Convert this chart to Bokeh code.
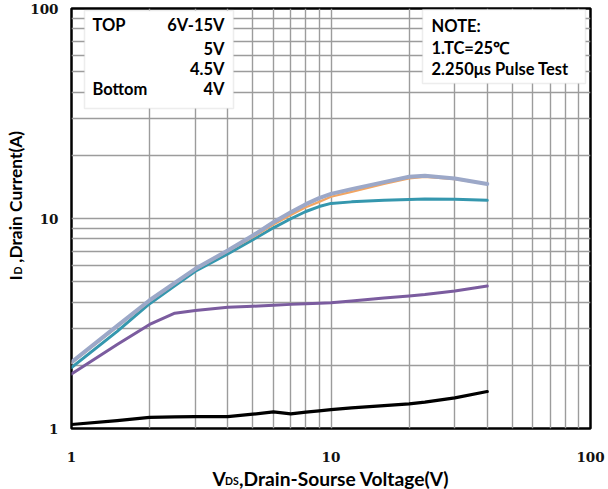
from bokeh.plotting import figure
from bokeh.models import Label, BoxAnnotation, FixedTicker, PrintfTickFormatter
from bokeh.embed import file_html
from bokeh.resources import INLINE

# ---- data (VDS in V, ID in A) ----
vds = [1, 1.5, 2, 2.5, 3, 4, 5, 6, 7, 8, 9, 10, 12, 16, 20, 23, 30, 40]
id_6v_15v = [2.07, 3.08, 4.08, 4.94, 5.76, 7.04, 8.30, 9.60, 10.7, 11.7, 12.5, 13.1, 13.8, 14.9, 15.8, 16.0, 15.5, 14.6]
id_5v     = [2.05, 3.05, 4.04, 4.90, 5.72, 6.98, 8.15, 9.35, 10.4, 11.3, 12.0, 12.7, 13.4, 14.6, 15.5, 15.8, 15.4, 14.6]
id_4_5v   = [1.95, 2.90, 3.93, 4.78, 5.61, 6.79, 7.92, 9.03, 9.97, 10.8, 11.4, 11.8, 12.0, 12.2, 12.3, 12.4, 12.35, 12.2]
id_4v     = [1.82, 2.51, 3.13, 3.54, 3.65, 3.78, 3.82, 3.86, 3.90, 3.93, 3.95, 3.97, 4.05, 4.18, 4.28, 4.35, 4.52, 4.77]
id_low    = [1.045, 1.09, 1.13, 1.135, 1.14, 1.14, 1.17, 1.20, 1.175, 1.196, 1.214, 1.23, 1.254, 1.285, 1.31, 1.335, 1.40, 1.50]

series = [
    ("low", id_low, "#000000", 3.2),
    ("4V", id_4v, "#7B5C9F", 3.0),
    ("4.5V", id_4_5v, "#3597AE", 3.0),
    ("5V", id_5v, "#F2A562", 2.2),
    ("6V-15V", id_6v_15v, "#9CA8C8", 4.0),
]

x_major = [1, 10, 100]
x_minor = [2, 3, 4, 5, 6, 7, 8, 9, 20, 30, 40, 50, 60, 70, 80, 90]
legend_left = ["TOP", "", "", "Bottom"]
legend_right = ["6V-15V", "5V", "4.5V", "4V"]
note_lines = ["NOTE:", "1.TC=25℃", "2.250μs Pulse Test"]
NB = "\u00a0"

W, H = 608, 489
FL, FR, FT, FB = 71, 590, 8, 428
p = figure(width=W, height=H, x_axis_type="log", y_axis_type="log",
           x_range=(1, 100), y_range=(1, 100),
           output_backend="svg", toolbar_location=None,
           min_border_left=FL, min_border_right=W - FR, min_border_top=FT, min_border_bottom=H - FB)
p.background_fill_color = "white"
p.border_fill_color = "white"
p.outline_line_color = "black"
p.outline_line_width = 2.5

for ax in (p.xaxis[0], p.yaxis[0]):
    ax.ticker = FixedTicker(ticks=x_major, minor_ticks=x_minor)
    ax.formatter = PrintfTickFormatter(format="%d")
    ax.axis_line_color = None
    ax.major_tick_line_color = None
    ax.minor_tick_line_color = None
    ax.major_tick_out = 0
    ax.major_tick_in = 0
    ax.minor_tick_out = 0
    ax.minor_tick_in = 0
    ax.major_label_text_font = "DejaVu Serif"
    ax.major_label_text_font_style = "bold"
    ax.major_label_text_font_size = "13.5px"
    ax.major_label_text_color = "#111111"
p.xaxis.major_label_standoff = 23
p.yaxis.major_label_standoff = 13

for g in p.grid:
    g.grid_line_color = "#9c9c9c"
    g.grid_line_width = 1.4
    g.minor_grid_line_color = "#9c9c9c"
    g.minor_grid_line_width = 1.4

for name, ys, col, lw in series:
    p.line(vds, ys, line_color=col, line_width=lw, line_join="round", line_cap="round")

# page-pixel -> data helpers for annotation placement
def X(px):
    return 10 ** (2 * (px - FL) / (FR - FL))
def Y(py):
    return 10 ** (2 * (FB - py) / (FB - FT))

SANS = "Lato"
p.add_layout(BoxAnnotation(left=X(84), right=X(233), top=Y(10), bottom=Y(108),
                           fill_color="white", fill_alpha=1, line_color="#c4c4c4", line_width=1.5))
p.add_layout(BoxAnnotation(left=X(422), right=X(585), top=Y(9), bottom=Y(83),
                           fill_color="white", fill_alpha=1, line_color="#c4c4c4", line_width=1.5))

LFS = "16.5px"
rows = [24.5, 48, 68, 88.5]
for t, yy in zip(legend_left, rows):
    if t:
        p.add_layout(Label(x=X(92), y=Y(yy), text=t, text_align="left", text_baseline="middle",
                           text_font=SANS, text_font_style="bold", text_font_size=LFS, text_color="black"))
for t, yy in zip(legend_right, rows):
    p.add_layout(Label(x=X(224), y=Y(yy), text=t, text_align="right", text_baseline="middle",
                       text_font=SANS, text_font_style="bold", text_font_size=LFS, text_color="black"))
for t, yy in zip(note_lines, [25, 47, 68]):
    p.add_layout(Label(x=X(431), y=Y(yy), text=t, text_align="left", text_baseline="middle",
                       text_font=SANS, text_font_style="bold", text_font_size=LFS, text_color="black"))

# x axis title (side panels so that it is not clipped by the frame)
p.add_layout(Label(x=X(212), y=Y(478), text="V" + NB * 3 + ",Drain-Sourse Voltage(V)",
                   text_align="left", text_baseline="middle",
                   text_font=SANS, text_font_style="bold", text_font_size="19.2px", text_color="black"),
             "below")
p.add_layout(Label(x=X(224.5), y=Y(480.5), text="DS", text_align="left", text_baseline="middle",
                   text_font=SANS, text_font_style="bold", text_font_size="10.5px", text_color="black"),
             "right")

# y axis title (rotated)
p.add_layout(Label(x=X(15), y=Y(280), text="I" + NB * 3 + ",Drain Current(A)", angle=90, angle_units="deg",
                   text_align="left", text_baseline="middle",
                   text_font=SANS, text_font_style="bold", text_font_size="17.4px", text_color="black"),
             "left")
p.add_layout(Label(x=X(17.5), y=Y(274), text="D", angle=90, angle_units="deg", text_align="left",
                   text_baseline="middle",
                   text_font=SANS, text_font_style="bold", text_font_size="10.5px", text_color="black"),
             "above")

open("out.html", "w").write(file_html(p, INLINE))
